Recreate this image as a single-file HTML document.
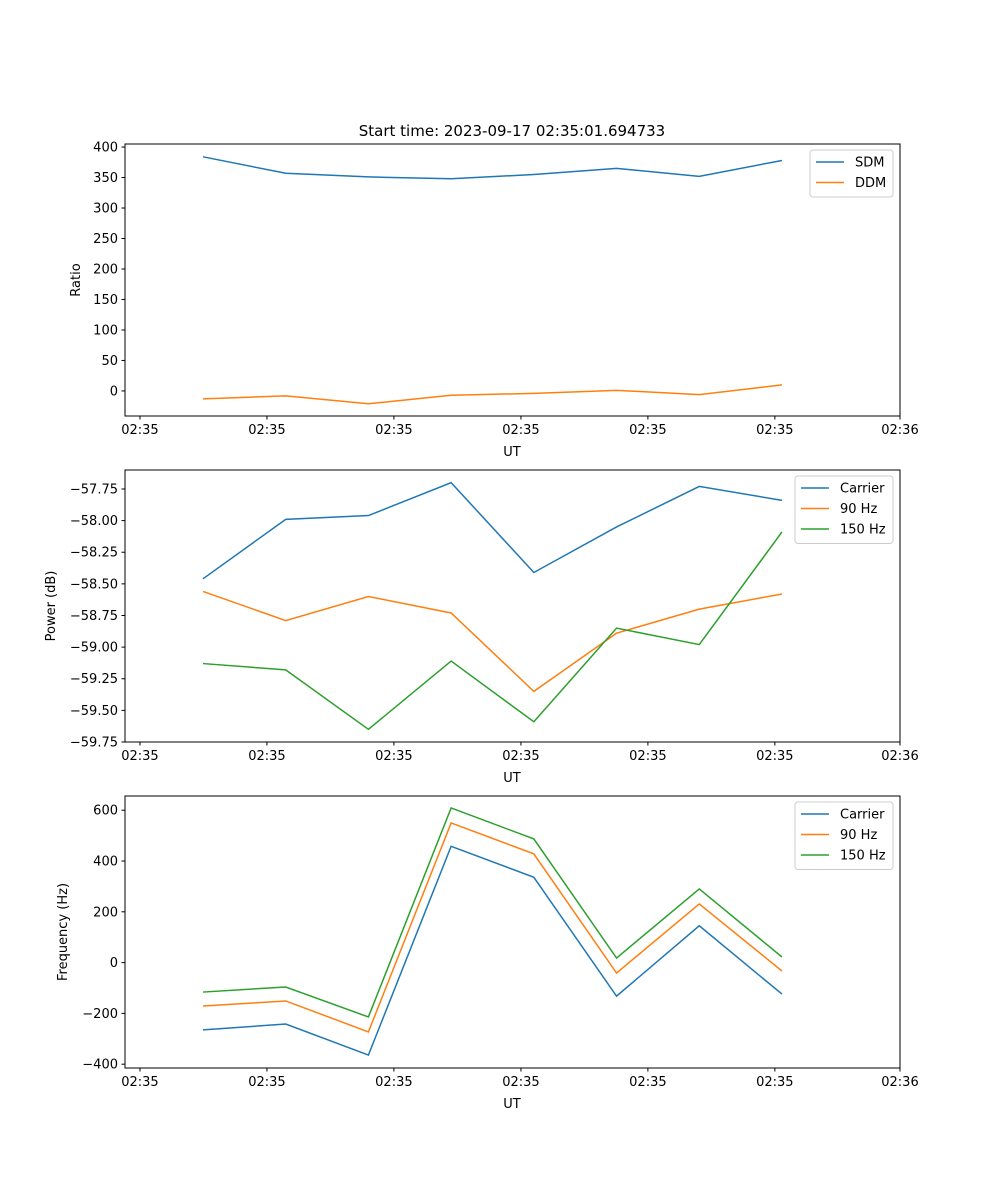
<!DOCTYPE html>
<html><head><meta charset="utf-8"><style>
body{margin:0;background:#fff}
svg{display:block;font-family:"DejaVu Sans","Liberation Sans",sans-serif}
</style></head><body>
<svg id="fig" width="1000" height="1200">
<rect width="1000" height="1200" fill="#fff"/>
<text x="512" y="136" text-anchor="middle" font-size="15">Start time: 2023-09-17 02:35:01.694733</text>
</svg>
<script>
// x in sample index units
const xTickVals = [-0.762, 0.773, 2.308, 3.844, 5.379, 6.914, 8.427];
const xTickLabels = ["02:35","02:35","02:35","02:35","02:35","02:35","02:36"];
const idx = [0,1,2,3,4,5,6,7];
const sdm = [384,357,351,348,355,365,352,378];
const ddm = [-13,-8,-21,-7,-4,1,-6,10];
const ratioTicks = [0,50,100,150,200,250,300,350,400];
const pwrCarrier = [-58.46,-57.99,-57.96,-57.70,-58.41,-58.05,-57.73,-57.84];
const pwr90 = [-58.56,-58.79,-58.60,-58.73,-59.35,-58.89,-58.70,-58.58];
const pwr150 = [-59.13,-59.18,-59.65,-59.11,-59.59,-58.85,-58.98,-58.09];
const pwrTicks = [-57.75,-58.00,-58.25,-58.50,-58.75,-59.00,-59.25,-59.50,-59.75];
const frqCarrier = [-265,-242,-364,458,336,-132,145,-124];
const frq90 = [-171,-151,-273,550,428,-41,231,-33];
const frq150 = [-116,-96,-214,609,487,18,290,22];
const frqTicks = [-400,-200,0,200,400,600];

const NS="http://www.w3.org/2000/svg";
const svg=document.getElementById('fig');
function mk(tag,attrs,parent){const e=document.createElementNS(NS,tag);for(const k in attrs)e.setAttribute(k,attrs[k]);(parent||svg).appendChild(e);return e;}
const L=125,R=900;
const xs=v=>203+(v-0)*82.71;
const colors=['#1f77b4','#ff7f0e','#2ca02c'];

function panel(name,top,bot,ymin,ymax,ticks,fmt,ylabel,series,names,leg){
  const g=mk('g',{});
  
  
  const ys=v=>bot-(v-ymin)/(ymax-ymin)*(bot-top);
  series.forEach((s,i)=>{
    const p=mk('polyline',{points:s.map((v,j)=>xs(idx[j])+','+ys(v)).join(' '),fill:'none',stroke:colors[i],'stroke-width':1.5},g);
    
    
  });
  const fr=mk('rect',{x:L,y:top,width:R-L,height:bot-top,fill:'none',stroke:'#000','stroke-width':1},g);
  
  
  ticks.forEach(t=>{const y=ys(t);mk('line',{x1:L-3.5,x2:L,y1:y,y2:y,stroke:'#000'},g);
    const tx=mk('text',{x:L-7,y:y+4.5,'text-anchor':'end','font-size':13},g);tx.textContent=fmt(t);
    
    });
  xTickVals.forEach((t,i)=>{const x=xs(t);mk('line',{x1:x,x2:x,y1:bot,y2:bot+3.5,stroke:'#000'},g);
    const tx=mk('text',{x:x,y:bot+18,'text-anchor':'middle','font-size':13},g);tx.textContent=xTickLabels[i];
    
    });
  const xl=mk('text',{x:512,y:bot+40,'text-anchor':'middle','font-size':13},g);xl.textContent='UT';
  
  
  const cy=(top+bot)/2;
  const yl=mk('text',{x:0,y:0,'text-anchor':'middle','font-size':13,transform:`translate(${leg.yl},${cy}) rotate(-90)`},g);yl.textContent=ylabel;
  
  
  const lg=mk('g',{},g);
  
  
  mk('rect',{x:leg.x,y:top+6,width:leg.w,height:6+names.length*20.5,fill:'#fff',stroke:'#ccc',rx:3},lg);
  names.forEach((n,i)=>{const y=top+18+i*20.5;
    mk('line',{x1:leg.x+6,x2:leg.x+34,y1:y,y2:y,stroke:colors[i],'stroke-width':1.5},lg);
    const t=mk('text',{x:leg.x+45,y:y+4.5,'font-size':13},lg);t.textContent=n;
    
    });
}
panel('ratio',144,416,-41.1,405,ratioTicks,t=>String(t),'Ratio',[sdm,ddm],['SDM','DDM'],{x:810,w:83,yl:80});
panel('power',470,742,-59.75,-57.60,pwrTicks,t=>'\u2212'+Math.abs(t).toFixed(2),'Power (dB)',[pwrCarrier,pwr90,pwr150],['Carrier','90 Hz','150 Hz'],{x:795,w:98,yl:55});
panel('frequency',796,1068,-415,656,frqTicks,t=>(t<0?'\u2212'+Math.abs(t):String(t)),'Frequency (Hz)',[frqCarrier,frq90,frq150],['Carrier','90 Hz','150 Hz'],{x:795,w:98,yl:67});
</script>
</body></html>
